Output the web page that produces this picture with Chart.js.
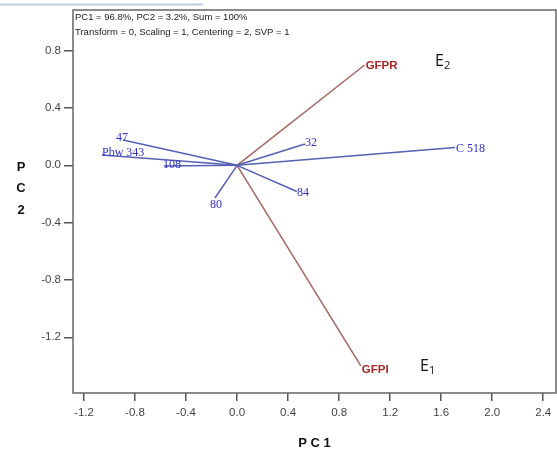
<!DOCTYPE html>
<html>
<head>
<meta charset="utf-8">
<script src="https://cdn.jsdelivr.net/npm/chart.js@4.4.1/dist/chart.umd.min.js"></script>
<style>
  html, body { margin: 0; padding: 0; background: #fff; }
  #wrap { position: relative; width: 557px; height: 455px; }
</style>
</head>
<body>
<div id="wrap"><canvas id="biplot" width="557" height="455"></canvas></div>
<script>
// genotype vectors (blue)
const genoNames = ["47", "Pbw 343", "108", "80", "84", "32", "C 518"];
const genoPC1 = [-0.894, -1.059, -0.573, -0.173, 0.469, 0.532, 1.708];
const genoPC2 = [0.177, 0.072, -0.005, -0.228, -0.183, 0.149, 0.125];

// environment vectors (red)
const envNames = ["GFPR", "GFPI"];
const envPC1 = [1.0, 0.97];
const envPC2 = [0.70, -1.40];

const xTicks = [-1.2, -0.8, -0.4, 0.0, 0.4, 0.8, 1.2, 1.6, 2.0, 2.4];
const yTicks = [0.8, 0.4, 0.0, -0.4, -0.8, -1.2];

const headerLines = [
  "PC1 = 96.8%, PC2 = 3.2%, Sum = 100%",
  "Transform = 0, Scaling = 1, Centering = 2, SVP = 1"
];

// where each end label sits relative to the vector tip: [dx, dy, align]
const labelPlace = {
  "47": [-1, -2, "center"],
  "Pbw 343": [0, -2, "left"],
  "108": [-1, -1, "left"],
  "80": [1, 7, "center"],
  "84": [0, 1, "left"],
  "32": [0, -1, "left"],
  "C 518": [1, 1, "left"],
  "GFPR": [1, 1, "left"],
  "GFPI": [1, 4, "left"]
};

const BLUE_LINE = "#5560b4";
const BLUE_TEXT = "#3030c4";
const RED_LINE = "#a5665f";
const RED_TEXT = "#a82828";

function vectorSets(names, xs, ys, color) {
  return names.map((n, i) => ({
    label: n,
    data: [{ x: 0, y: 0 }, { x: xs[i], y: ys[i] }],
    showLine: true,
    borderColor: color,
    borderWidth: 1.5,
    pointRadius: 0,
    fill: false
  }));
}

const datasets = [
  ...vectorSets(genoNames, genoPC1, genoPC2, BLUE_LINE),
  ...vectorSets(envNames, envPC1, envPC2, RED_LINE)
];

const decor = {
  id: "decor",
  afterDatasetsDraw(chart) {
    const { ctx, chartArea: a, scales: { x, y } } = chart;
    ctx.save();

    // frame
    ctx.strokeStyle = "#666";
    ctx.lineWidth = 1.5;
    ctx.strokeRect(a.left, a.top, a.right - a.left, a.bottom - a.top);

    // thin strip above the frame
    ctx.strokeStyle = "#b9cde2";
    ctx.lineWidth = 2;
    ctx.beginPath();
    ctx.moveTo(0, 4.5);
    ctx.lineTo(203, 4.5);
    ctx.stroke();

    // header text
    ctx.fillStyle = "#222";
    ctx.font = "9.5px 'Liberation Sans', Arial, sans-serif";
    ctx.textAlign = "left";
    ctx.textBaseline = "middle";
    headerLines.forEach((t, i) => ctx.fillText(t, a.left + 2, 17 + i * 15));

    // vector labels
    ctx.textBaseline = "middle";
    genoNames.forEach((n, i) => {
      const [dx, dy, al] = labelPlace[n];
      ctx.font = "12px 'Liberation Serif', 'Times New Roman', serif";
      ctx.fillStyle = BLUE_TEXT;
      ctx.textAlign = al;
      ctx.fillText(n, x.getPixelForValue(genoPC1[i]) + dx, y.getPixelForValue(genoPC2[i]) + dy);
    });
    envNames.forEach((n, i) => {
      const [dx, dy, al] = labelPlace[n];
      ctx.font = "bold 11.5px 'Liberation Sans', Arial, sans-serif";
      ctx.fillStyle = RED_TEXT;
      ctx.textAlign = al;
      ctx.fillText(n, x.getPixelForValue(envPC1[i]) + dx, y.getPixelForValue(envPC2[i]) + dy);
    });

    // environment markers E2 / E1
    function envTag(base, sub, px, py) {
      ctx.fillStyle = "#111";
      ctx.textAlign = "left";
      ctx.textBaseline = "alphabetic";
      ctx.font = "16px 'Open Sans', 'Liberation Sans', sans-serif";
      ctx.fillText(base, px, py);
      const w = ctx.measureText(base).width;
      ctx.font = "11px 'Open Sans', 'Liberation Sans', sans-serif";
      ctx.fillText(sub, px + w, py + 3);
    }
    envTag("E", "2", 435, 66);
    envTag("E", "1", 420, 371);

    // axis titles
    ctx.fillStyle = "#111";
    ctx.font = "bold 13px 'Liberation Sans', Arial, sans-serif";
    ctx.textAlign = "center";
    ctx.textBaseline = "middle";
    ["P", "C", "2"].forEach((c, i) => ctx.fillText(c, 21, 167 + i * 21.5));
    ctx.fillText("P C 1", (a.left + a.right) / 2, 443);

    ctx.restore();
  }
};

const tickFont = { family: "'Liberation Sans', Arial, sans-serif", size: 11.5 };

new Chart(document.getElementById("biplot"), {
  type: "scatter",
  data: { datasets },
  options: {
    responsive: false,
    animation: false,
    layout: { padding: { top: 10, right: 1, left: 0, bottom: 0 } },
    plugins: { legend: { display: false }, tooltip: { enabled: false } },
    scales: {
      x: {
        type: "linear",
        min: -1.286,
        max: 2.5,
        afterBuildTicks: (s) => { s.ticks = xTicks.map((v) => ({ value: v })); },
        afterFit: (s) => { s.height = 62; },
        grid: { drawOnChartArea: false, drawTicks: true, tickLength: 8, color: "#555", lineWidth: 1.5 },
        border: { display: false },
        ticks: { color: "#444", font: tickFont, padding: 5, maxRotation: 0, autoSkip: false,
          callback: (v) => v.toFixed(1) }
      },
      y: {
        type: "linear",
        min: -1.589,
        max: 1.084,
        afterBuildTicks: (s) => { s.ticks = yTicks.map((v) => ({ value: v })); },
        afterFit: (s) => { s.width = 73; },
        grid: { drawOnChartArea: false, drawTicks: true, tickLength: 9, color: "#555", lineWidth: 1.5 },
        border: { display: false },
        ticks: { color: "#444", font: tickFont, padding: 3, autoSkip: false,
          callback: (v) => v.toFixed(1) }
      }
    }
  },
  plugins: [decor]
});
</script>
</body>
</html>
